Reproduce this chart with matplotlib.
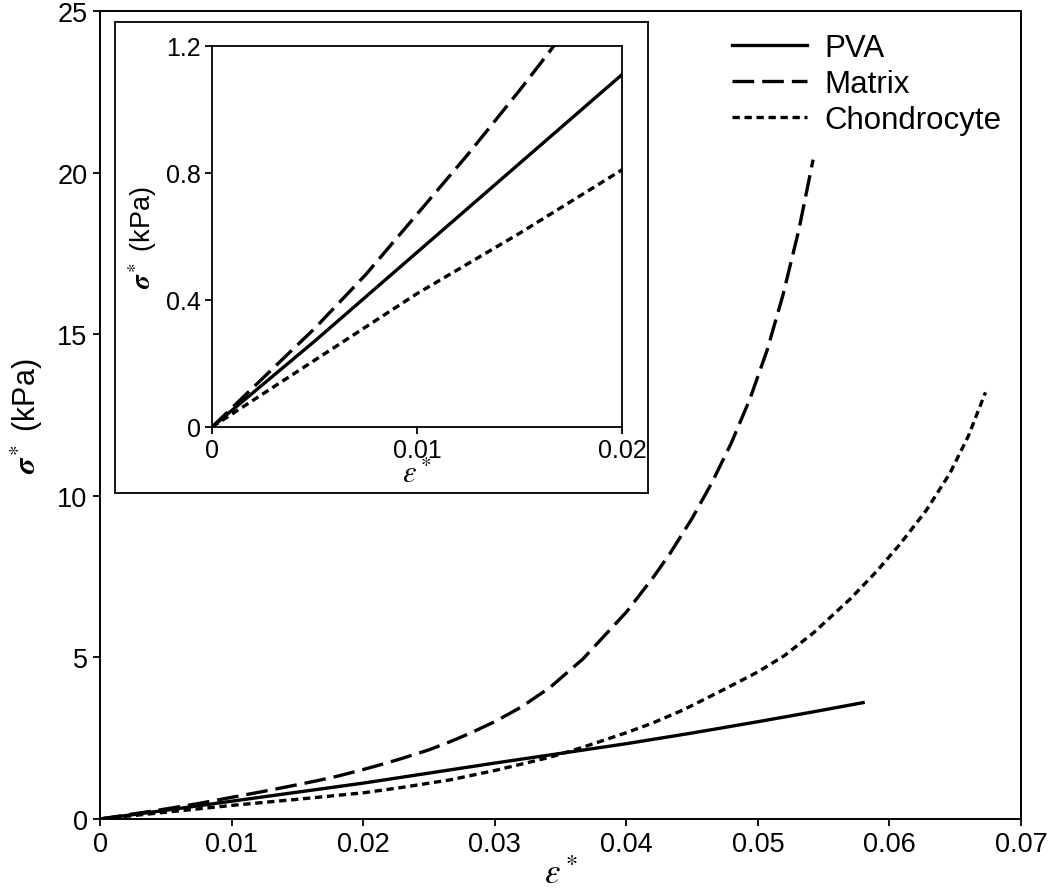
import matplotlib
matplotlib.use("Agg")
import matplotlib.pyplot as plt

plt.rcParams['font.family'] = ['Liberation Sans', 'DejaVu Sans']
plt.rcParams['mathtext.fontset'] = 'stix'

# ---- data ----
pva_strain = [0.0, 0.005, 0.01, 0.015, 0.02, 0.025, 0.03, 0.035, 0.04, 0.045, 0.05, 0.054, 0.058]
pva_stress = [0.0, 0.27, 0.55, 0.83, 1.11, 1.42, 1.73, 2.03, 2.33, 2.66, 3.01, 3.30, 3.60]

matrix_strain = [0.0, 0.0025, 0.005, 0.0075, 0.01, 0.0125, 0.015, 0.0165, 0.018, 0.02, 0.0215,
                 0.023, 0.025, 0.0266, 0.028, 0.03, 0.032, 0.0342, 0.0367, 0.04, 0.042,
                 0.0433, 0.045, 0.0465, 0.048, 0.0494, 0.0507, 0.0519, 0.0531, 0.0542]
matrix_stress = [0.0, 0.155, 0.31, 0.48, 0.67, 0.86, 1.06, 1.185, 1.32, 1.53, 1.70,
                 1.88, 2.14, 2.39, 2.63, 3.01, 3.46, 4.07, 4.95, 6.4, 7.45,
                 8.2, 9.3, 10.4, 11.65, 13.0, 14.5, 16.2, 18.2, 20.4]

chondro_strain = [0.0, 0.005, 0.01, 0.015, 0.02, 0.023, 0.0266, 0.03, 0.0342, 0.0367, 0.04,
                  0.042, 0.0443, 0.047, 0.05, 0.052, 0.0542, 0.057, 0.059, 0.0608, 0.0628,
                  0.0646, 0.066, 0.0673]
chondro_stress = [0.0, 0.21, 0.42, 0.61, 0.81, 0.98, 1.21, 1.5, 1.91, 2.22, 2.67,
                  2.97, 3.37, 3.92, 4.55, 5.05, 5.75, 6.8, 7.65, 8.5, 9.55,
                  10.7, 11.85, 13.2]

series_labels = ['PVA', 'Matrix', 'Chondrocyte']

main_xticks = [0, 0.01, 0.02, 0.03, 0.04, 0.05, 0.06, 0.07]
main_xticklabels = ['0', '0.01', '0.02', '0.03', '0.04', '0.05', '0.06', '0.07']
main_yticks = [0, 5, 10, 15, 20, 25]
inset_xticks = [0, 0.01, 0.02]
inset_xticklabels = ['0', '0.01', '0.02']
inset_yticks = [0, 0.4, 0.8, 1.2]
inset_yticklabels = ['0', '0.4', '0.8', '1.2']

# ---- styles ----
LW = 2.4
styles = [dict(color='black', lw=LW, linestyle='-'),
          dict(color='black', lw=LW, dashes=(6.5, 2.4)),
          dict(color='black', lw=LW, dashes=(2.2, 1.4))]

fig = plt.figure(figsize=(10.5, 8.95), dpi=100)
W, H = 1050, 895


def frac(x0, y0, x1, y1):
    return [x0 / W, 1 - y1 / H, (x1 - x0) / W, (y1 - y0) / H]


ax = fig.add_axes(frac(100, 12, 1021, 820))
datasets = [(pva_strain, pva_stress), (matrix_strain, matrix_stress), (chondro_strain, chondro_stress)]
for (xs, ys), lab, st in zip(datasets, series_labels, styles):
    ax.plot(xs, ys, label=lab, solid_joinstyle='round', dash_joinstyle='round', **st)

ax.set_xlim(0, 0.07)
ax.set_ylim(0, 25)
ax.set_xticks(main_xticks)
ax.set_xticklabels(main_xticklabels)
ax.set_yticks(main_yticks)
ax.tick_params(direction='out', length=5, width=1.3, labelsize=19.5, pad=4)
for s in ax.spines.values():
    s.set_linewidth(1.4)
ax.set_xlabel(r'$\varepsilon^*$', fontsize=25, labelpad=0)
ax.set_ylabel(r'$\boldsymbol{\sigma}^*$ (kPa)', fontsize=22, labelpad=9)

leg = ax.legend(loc='upper left', bbox_to_anchor=(0.686, 0.973), frameon=False,
                fontsize=22.5, handlelength=2.4, handletextpad=0.55,
                labelspacing=0.2, borderpad=0, borderaxespad=0)

# inset frame box
box = fig.add_axes(frac(115, 23, 648, 494))
box.set_xticks([])
box.set_yticks([])
box.set_facecolor('white')
for s in box.spines.values():
    s.set_linewidth(1.3)

ins = fig.add_axes(frac(212, 47, 622, 428))
for (xs, ys), st in zip(datasets, styles):
    ins.plot(xs, ys, **st)
ins.set_xlim(0, 0.02)
ins.set_ylim(0, 1.2)
ins.set_xticks(inset_xticks)
ins.set_xticklabels(inset_xticklabels)
ins.set_yticks(inset_yticks)
ins.set_yticklabels(inset_yticklabels)
ins.tick_params(direction='out', length=5, width=1.3, labelsize=18, pad=3)
for s in ins.spines.values():
    s.set_linewidth(1.3)
ins.set_xlabel(r'$\varepsilon^*$', fontsize=22, labelpad=-2)
ins.set_ylabel(r'$\boldsymbol{\sigma}^*$ (kPa)', fontsize=19.5, labelpad=5)

fig.savefig('out.png', dpi=100)
